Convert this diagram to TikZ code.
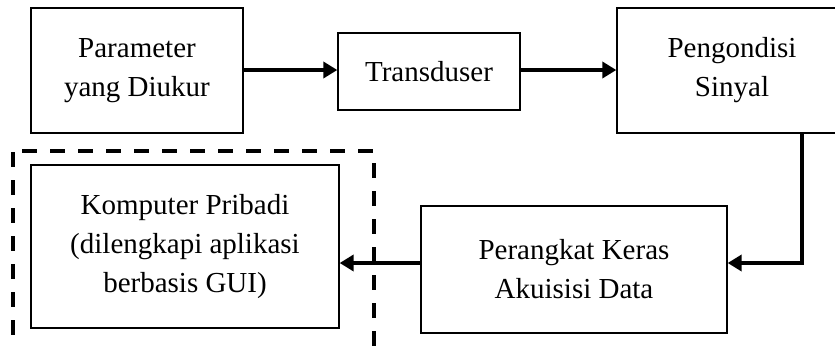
\documentclass[tikz,border=0pt]{standalone}
\usepackage{fontspec}
\setmainfont{Liberation Serif}
\usetikzlibrary{arrows.meta}
\begin{document}
\begin{tikzpicture}[x=1pt,y=-1pt,
  blk/.style={draw=black,line width=1.3pt,inner sep=0pt,align=center,
    font=\fontsize{29}{39}\selectfont},
  flow/.style={line width=4pt,-{Triangle[length=14pt,width=16pt]}},
  grp/.style={line width=3.6pt,dash pattern=on 15pt off 13pt}]
\useasboundingbox (0,0) rectangle (835,346);
\clip (0,0) rectangle (835,346);
\fill[white] (0,0) rectangle (835,346);
\node[blk,minimum width=212pt,minimum height=125pt] (param) at (137,70.5) {Parameter\\yang Diukur};
\node[blk,minimum width=182pt,minimum height=77pt] (trans) at (429,71.5) {Transduser};
\node[blk,minimum width=300pt,minimum height=125pt] (kond) at (767,70.5) {};
\node[align=center,font=\fontsize{29}{39}\selectfont,inner sep=0pt] (kondtxt) at (732,70.5) {Pengondisi\\Sinyal};
\node[blk,minimum width=306pt,minimum height=127pt] (daq) at (574,269.5) {Perangkat Keras\\Akuisisi Data};
\node[blk,minimum width=308pt,minimum height=163pt] (pc) at (185,246.5) {Komputer Pribadi\\(dilengkapi aplikasi\\berbasis GUI)};
\coordinate (tl) at (13,151);
\coordinate (tr) at (374,151);
\coordinate (bl) at (13,370);
\coordinate (br) at (374,370);
\draw[grp,dash phase=19pt] (tl) -- (tr);
\draw[grp] (13,152) -- (bl);
\draw[grp] (374,163) -- (br);
\draw[flow] (param.east |- 0,70) -- (trans.west |- 0,70);
\draw[flow] (trans.east |- 0,70) -- (kond.west |- 0,70);
\coordinate (corner) at (802,263);
\draw[flow] (kond.south -| corner) -- (corner) -- (daq.east |- corner);
\draw[flow] (daq.west |- corner) -- (pc.east |- corner);
\end{tikzpicture}
\end{document}
